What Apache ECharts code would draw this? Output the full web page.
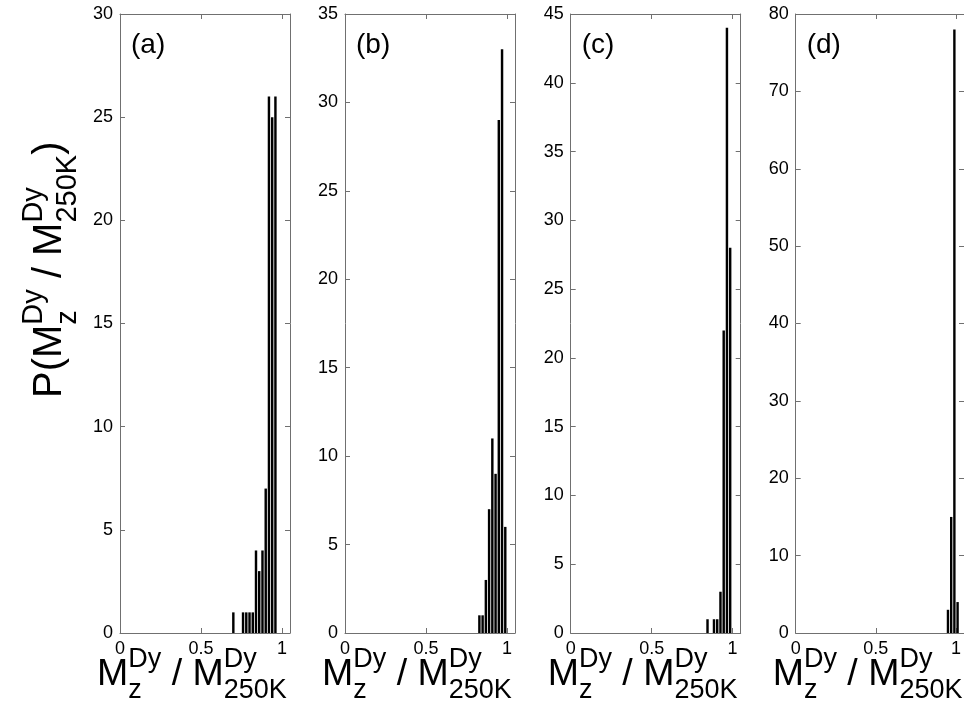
<!DOCTYPE html>
<html><head><meta charset="utf-8">
<script src="https://cdn.jsdelivr.net/npm/echarts@6/dist/echarts.min.js"></script>
<style>html,body{margin:0;padding:0;background:#fff}#c{width:964px;height:707px}</style>
</head><body><div id="c"></div>
<script>
// ---- data ----
const binWidth = 0.02;
const xTickLabels = ['0', '0.5', '1'];
const panelLabels = ['(a)', '(b)', '(c)', '(d)'];

const aCenters = [0.70, 0.76, 0.78, 0.80, 0.82, 0.84, 0.86, 0.88, 0.90, 0.92, 0.94, 0.96];
const aValues  = [1, 1, 1, 1, 1, 4, 3, 4, 7, 26, 25, 26];

const bCenters = [0.83, 0.85, 0.87, 0.89, 0.91, 0.93, 0.95, 0.97, 0.99];
const bValues  = [1, 1, 3, 7, 11, 9, 29, 33, 6];

const cCenters = [0.845, 0.885, 0.905, 0.925, 0.945, 0.965, 0.985];
const cValues  = [1, 1, 1, 3, 22, 44, 28];

const dCenters = [0.95, 0.97, 0.99, 1.01];
const dValues  = [3, 15, 78, 4];

const yMaxes = [30, 35, 45, 80];
const yIntervals = [5, 5, 5, 10];

// ---- layout / style ----
const FONT = '"Liberation Sans", Arial, Helvetica, sans-serif';
const panels = [
  { c: aCenters, v: aValues },
  { c: bCenters, v: bValues },
  { c: cCenters, v: cValues },
  { c: dCenters, v: dValues }
];
const lefts = [120, 345, 570.7, 795.7];
const TOP = 14, H = 619, W = 170;
const AX = '#707070';

const ctx = document.createElement('canvas').getContext('2d');
function tw(t, size) { ctx.font = size + 'px ' + FONT; return ctx.measureText(t).width; }
function txt(t, x, y, size) {
  return { type: 'text', x: x, y: y,
    style: { text: t, font: size + 'px ' + FONT, fill: '#000',
      textAlign: 'left', textVerticalAlign: 'middle', align: 'left', verticalAlign: 'middle' } };
}
function mathLabel(parts, F, f, supOff, subOff) {
  const children = []; let x = 0;
  parts.forEach(p => {
    if (p.text !== undefined) {
      children.push(txt(p.text, x, 0, F)); x += tw(p.text, F);
    } else {
      children.push(txt(p.sup, x, supOff, f));
      children.push(txt(p.sub, x, subOff, f));
      x += Math.max(tw(p.sup, f), tw(p.sub, f));
    }
  });
  return { children, width: x };
}

const grids = [], xAxes = [], yAxes = [], series = [], graphics = [];
panels.forEach((p, i) => {
  grids.push({ left: lefts[i], top: TOP, width: W, height: H, show: false });
  const xBase = {
    gridIndex: i, type: 'value', min: 0, max: 1.05, interval: 0.5,
    axisLine: { show: true, onZero: false, lineStyle: { color: AX, width: 1 } },
    axisTick: { show: true, inside: true, length: 5, lineStyle: { color: AX } },
    splitLine: { show: false }
  };
  xAxes.push(Object.assign({}, xBase, { position: 'bottom',
    axisLabel: { show: true, color: '#000', fontSize: 18, fontFamily: FONT, margin: 7,
      showMaxLabel: false,
      formatter: v => { const k = Math.round(v / 0.5); return (Math.abs(v - k * 0.5) < 1e-9 && k < xTickLabels.length) ? xTickLabels[k] : ''; } } }));
  xAxes.push(Object.assign({}, xBase, { position: 'top', axisLabel: { show: false } }));
  const yBase = {
    gridIndex: i, type: 'value', min: 0, max: yMaxes[i], interval: yIntervals[i],
    axisLine: { show: true, onZero: false, lineStyle: { color: AX, width: 1 } },
    axisTick: { show: true, inside: true, length: 5, lineStyle: { color: AX } },
    splitLine: { show: false }
  };
  yAxes.push(Object.assign({}, yBase, { position: 'left',
    axisLabel: { show: true, color: '#000', fontSize: 18, fontFamily: FONT, margin: 7 } }));
  yAxes.push(Object.assign({}, yBase, { position: 'right', axisLabel: { show: false } }));

  series.push({
    type: 'custom', xAxisIndex: 2 * i, yAxisIndex: 2 * i,
    data: p.c.map((c, j) => [c, p.v[j]]),
    clip: false,
    renderItem: (params, api) => {
      const c = api.value(0), v = api.value(1);
      const p0 = api.coord([c - binWidth / 2, 0]);
      const p1 = api.coord([c + binWidth / 2, v]);
      return { type: 'rect',
        shape: { x: p0[0] + 0.4, y: p1[1], width: p1[0] - p0[0] - 0.8, height: p0[1] - p1[1] },
        style: { fill: '#000' } };
    }
  });

  graphics.push(txt(panelLabels[i], lefts[i] + 11, 45, 28));

  const xl = mathLabel([{ text: 'M' }, { sup: 'Dy', sub: 'z' }, { text: ' / M' }, { sup: 'Dy', sub: '250K' }],
    37.5, 27, -15, 16);
  graphics.push({ type: 'group', x: lefts[i] - 23, y: 675, children: xl.children });
});

const yl = mathLabel([{ text: 'P(M' }, { sup: 'Dy', sub: 'z' }, { text: ' / M' }, { sup: 'Dy', sub: '250K' }, { text: ')' }],
  40, 29, -16, 18);
graphics.push({ type: 'group', x: 50, y: 398, rotation: Math.PI / 2, children: yl.children });

const chart = echarts.init(document.getElementById('c'), null, { renderer: 'canvas' });
chart.setOption({
  animation: false,
  backgroundColor: '#fff',
  grid: grids, xAxis: xAxes, yAxis: yAxes, series: series,
  graphic: { elements: graphics }
});
</script></body></html>
